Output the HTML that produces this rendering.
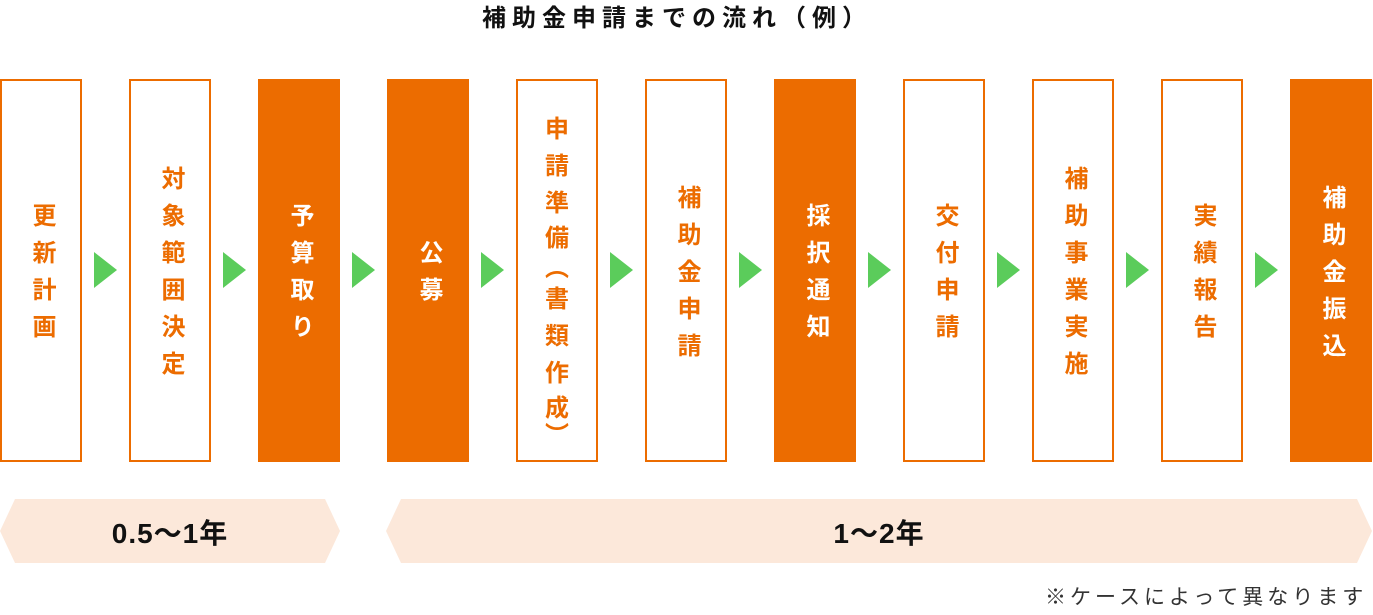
<!DOCTYPE html>
<html><head><meta charset="utf-8"><style>
body{margin:0;width:1373px;height:615px;background:#fff;position:relative;font-family:"Liberation Sans","Noto Sans CJK JP",sans-serif;overflow:hidden}
.t{position:absolute;top:2px;left:482px;white-space:nowrap;font-size:24px;letter-spacing:6px;font-weight:bold;color:#111;line-height:34px}
.b{position:absolute;top:79px;width:78px;height:379px;border:2px solid #ec6c00;background:#fff;color:#ec6c00;display:flex;align-items:center;justify-content:center}
.b.f{background:#ec6c00;color:#fff}
.v{writing-mode:vertical-rl;white-space:nowrap;font-size:24px;font-weight:bold;letter-spacing:13px;line-height:1;margin-bottom:-13px}
.c{position:absolute;left:0;width:78px;text-align:center;font-size:24px;font-weight:bold;line-height:24px;color:#ec6c00}
.a{position:absolute;top:252px;width:0;height:0;border-top:18.5px solid transparent;border-bottom:18.5px solid transparent;border-left:23px solid #5bcc5b}
.foot{position:absolute;left:1045px;top:584px;white-space:nowrap;font-size:21px;letter-spacing:4px;color:#333;line-height:28px}
</style></head><body>
<div class="t">補助金申請までの流れ（例）</div>
<div class="b" style="left:0"><span class="v">更新計画</span></div>
<div class="b" style="left:129px"><span class="v">対象範囲決定</span></div>
<div class="b f" style="left:258px"><span class="v">予算取り</span></div>
<div class="b f" style="left:387px"><span class="v">公募</span></div>
<div class="b" style="left:516px;display:block">
<div class="c" style="top:37px">申</div>
<div class="c" style="top:74px">請</div>
<div class="c" style="top:111px">準</div>
<div class="c" style="top:146px">備</div>
<div class="c" style="top:176px">︵</div>
<div class="c" style="top:207px">書</div>
<div class="c" style="top:244px">類</div>
<div class="c" style="top:281px">作</div>
<div class="c" style="top:316px">成</div>
<div class="c" style="top:343px">︶</div>
</div>
<div class="b" style="left:645px"><span class="v">補助金申請</span></div>
<div class="b f" style="left:774px"><span class="v">採択通知</span></div>
<div class="b" style="left:903px"><span class="v">交付申請</span></div>
<div class="b" style="left:1032px"><span class="v">補助事業実施</span></div>
<div class="b" style="left:1161px"><span class="v">実績報告</span></div>
<div class="b f" style="left:1290px"><span class="v">補助金振込</span></div>
<div class="a" style="left:94px"></div>
<div class="a" style="left:223px"></div>
<div class="a" style="left:352px"></div>
<div class="a" style="left:481px"></div>
<div class="a" style="left:610px"></div>
<div class="a" style="left:739px"></div>
<div class="a" style="left:868px"></div>
<div class="a" style="left:997px"></div>
<div class="a" style="left:1126px"></div>
<div class="a" style="left:1255px"></div>
<svg style="position:absolute;left:0;top:0" width="1373" height="615">
<polygon points="15,499 325,499 340,531 325,563 15,563 0,531" fill="#fce8da"/>
<polygon points="401,499 1357,499 1372,531 1357,563 401,563 386,531" fill="#fce8da"/>
<text x="170" y="543" text-anchor="middle" font-size="28" letter-spacing="1" font-weight="bold" fill="#111" font-family="Liberation Sans,Noto Sans CJK JP,sans-serif">0.5〜1年</text>
<text x="879" y="543" text-anchor="middle" font-size="28" letter-spacing="1" font-weight="bold" fill="#111" font-family="Liberation Sans,Noto Sans CJK JP,sans-serif">1〜2年</text>
</svg>
<div class="foot">※ケースによって異なります</div>
</body></html>
